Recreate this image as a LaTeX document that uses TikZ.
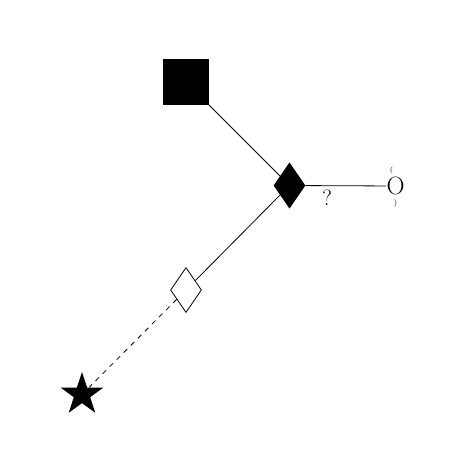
\documentclass[tikz,border=0pt]{standalone}
\usepackage{fontspec}
\usepackage{tikz}
\usetikzlibrary{shapes.geometric}

\begin{document}
\begin{tikzpicture}[x=1pt,y=-1pt,line width=0.8pt]
			\useasboundingbox (0,0) rectangle (476,476);
			\tikzset{
				kasten/.style={draw=black,fill=black,minimum size=45pt,inner sep=0pt},
				raute/.style={diamond,draw=black,minimum width=31pt,minimum height=45pt,inner sep=0pt},
				stern/.style={star,star points=5,star point ratio=2.6,fill=black,minimum size=45pt,inner sep=0pt},
				schrift/.style={inner sep=0pt,font=\fontsize{#1}{#1}\selectfont}
			}
			%knoten
			\node[kasten] (sq) at (186,82) {};
			\node[raute,fill=black] (d1) at (289.5,185.5) {};
			\node[raute,fill=white] (d2) at (186,290) {};
			\node[stern] (st) at (82,394.5) {};
			\node[schrift=25] (o1) at (395.5,186) {O};
			\node[schrift=8] (k1) at (391.5,170) {(};
			\node[schrift=8] (k2) at (395.5,203) {)};
			
			%verbindungen
			\draw (sq) -- (d1);
			\draw (d1) -- node[pos=0.27,below=4pt,schrift=22] (q) {?} (o1);
			\draw (d1) -- (d2);
			\draw[dash pattern=on 5pt off 5pt] (d2) -- (st);
			
			\end{tikzpicture}
\end{document}
